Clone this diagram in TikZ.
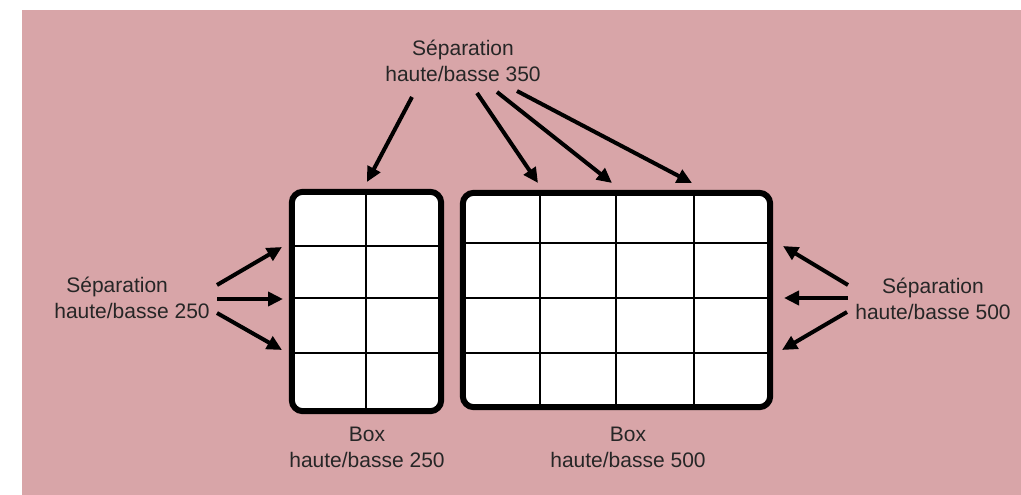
\documentclass[tikz,border=0pt]{standalone}
\usepackage{fontspec}
\setmainfont{Liberation Sans}
\usetikzlibrary{arrows.meta}
\definecolor{bgpink}{RGB}{216,165,168}
\definecolor{txt}{RGB}{38,38,38}
\begin{document}
\begin{tikzpicture}[x=1pt,y=-1pt,
  lbl/.style={font=\fontsize{21}{26}\selectfont, text=txt, align=center, inner sep=0pt},
  boxfill/.style={fill=white, rounded corners=11pt, inner sep=0pt},
  boxborder/.style={line width=6pt, rounded corners=11pt},
  gridline/.style={line width=1.8pt},
  arr/.style={line width=4pt, -{Triangle[length=15pt,width=14pt]}}]
\useasboundingbox (0,0) rectangle (1021,495);
\fill[bgpink] (22,10) rectangle (1021,495);

% boxes
\node[boxfill, minimum width=149pt, minimum height=219pt] (boxA) at (366.5,301.5) {};
\node[boxfill, minimum width=307pt, minimum height=214pt] (boxB) at (616.5,300) {};

% grid of box A
\foreach \yy in {246,298,353} \draw[gridline] (292,\yy) -- (441,\yy);
\draw[gridline] (366,192) -- (366,411);
% grid of box B
\foreach \yy in {243,298,353} \draw[gridline] (463,\yy) -- (770,\yy);
\foreach \xx in {540,616,694} \draw[gridline] (\xx,193) -- (\xx,407);

\draw[boxborder] (boxA.south west) rectangle (boxA.north east);
\draw[boxborder] (boxB.south west) rectangle (boxB.north east);

% labels
\node[lbl] (top) at (463,61) {Séparation\\haute/basse 350};
\node[lbl, align=left] (left) at (132,298) {\hspace*{12pt}Séparation\\haute/basse 250};
\node[lbl] (right) at (933,299) {Séparation\\haute/basse 500};
\node[lbl] (capA) at (367,447.5) {Box\\haute/basse 250};
\node[lbl] (capB) at (628,447.5) {Box\\haute/basse 500};

% arrow endpoints
\coordinate (t1s) at (412,97);  \coordinate (t1e) at (367,182);
\coordinate (t2s) at (477,93);  \coordinate (t2e) at (538,183);
\coordinate (t3s) at (497,92);  \coordinate (t3e) at (612,183);
\coordinate (t4s) at (517,91);  \coordinate (t4e) at (692,183);
\coordinate (l1s) at (217,285); \coordinate (l1e) at (282,247);
\coordinate (l2s) at (217,299); \coordinate (l2e) at (283,299);
\coordinate (l3s) at (217,313); \coordinate (l3e) at (282,350);
\coordinate (r1s) at (848,285); \coordinate (r1e) at (783,246);
\coordinate (r2s) at (848,298); \coordinate (r2e) at (784,298);
\coordinate (r3s) at (847,312); \coordinate (r3e) at (782,350);

\foreach \a in {t1,t2,t3,t4,l1,l2,l3,r1,r2,r3}
  \draw[arr] (\a s) -- (\a e);
\end{tikzpicture}
\end{document}
